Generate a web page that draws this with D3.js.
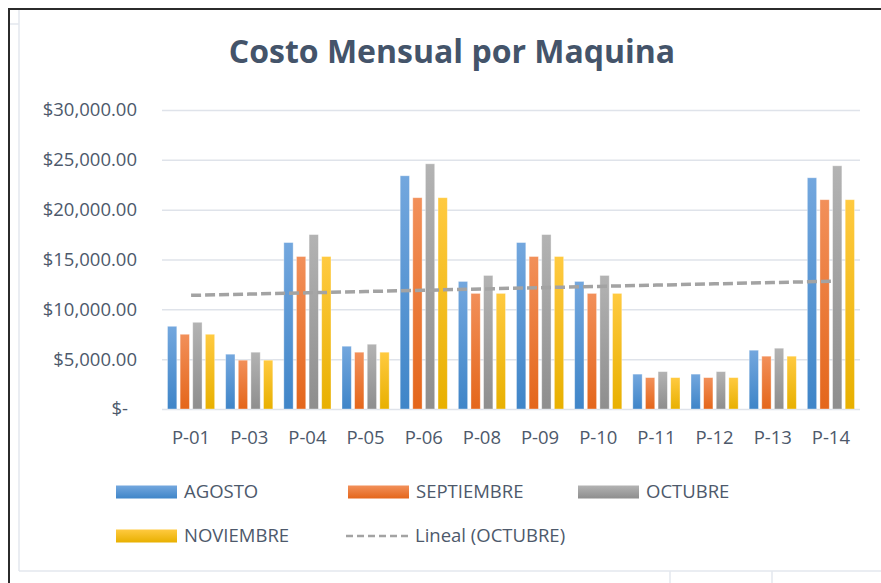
<!DOCTYPE html>
<html>
<head>
<meta charset="utf-8">
<script src="https://cdn.jsdelivr.net/npm/d3@7"></script>
<style>
  html, body { margin: 0; padding: 0; background: #fff; }
  svg { display: block; font-family: "Open Sans", sans-serif; }
</style>
</head>
<body>
<div class="canvas"></div>
<script>
// DATA
const categories = ['P-01', 'P-03', 'P-04', 'P-05', 'P-06', 'P-08', 'P-09', 'P-10', 'P-11', 'P-12', 'P-13', 'P-14'];
const seriesNames = ['AGOSTO', 'SEPTIEMBRE', 'OCTUBRE', 'NOVIEMBRE'];
const agosto = [8300, 5500, 16700, 6300, 23400, 12800, 16700, 12800, 3500, 3500, 5900, 23200];
const septiembre = [7500, 4900, 15300, 5700, 21200, 11600, 15300, 11600, 3150, 3150, 5300, 21000];
const octubre = [8700, 5700, 17500, 6500, 24600, 13400, 17500, 13400, 3750, 3750, 6100, 24400];
const noviembre = [7500, 4900, 15300, 5700, 21200, 11600, 15300, 11600, 3150, 3150, 5300, 21000];
const yTicks = [0, 5000, 10000, 15000, 20000, 25000, 30000];
const trendLabel = 'Lineal (OCTUBRE)';

const seriesValues = [agosto, septiembre, octubre, noviembre];

// colours: [top, bottom] of each bar gradient
const colors = [
    ['#73a7de', '#3f85c8'],
    ['#f2905a', '#e4661b'],
    ['#b3b3b3', '#8e8e8e'],
    ['#ffca40', '#e8b000']
];

const W = 881, H = 583;
const textColor = '#4d596b';

const svg = d3.select('.canvas').append('svg')
    .attr('width', W)
    .attr('height', H);

// gradients
const defs = svg.append('defs');
colors.forEach((c, i) => {
    const g = defs.append('linearGradient')
        .attr('id', `grad${i}`)
        .attr('x1', 0).attr('y1', 0).attr('x2', 0).attr('y2', 1);
    g.append('stop').attr('offset', '0%').attr('stop-color', c[0]);
    g.append('stop').attr('offset', '100%').attr('stop-color', c[1]);
});

// frame (screenshot edges + sheet cells)
svg.append('line').attr('x1', 19).attr('y1', 9).attr('x2', 19).attr('y2', 571)
    .attr('stroke', '#e3e7ee').attr('stroke-width', 1.5);
svg.append('line').attr('x1', 19).attr('y1', 571).attr('x2', W).attr('y2', 571)
    .attr('stroke', '#e3e7ee').attr('stroke-width', 1.5);
svg.append('line').attr('x1', 9).attr('y1', 24).attr('x2', 19).attr('y2', 24)
    .attr('stroke', '#e3e7ee').attr('stroke-width', 1.5);
[670, 772].forEach(x => {
    svg.append('line').attr('x1', x).attr('y1', 571).attr('x2', x).attr('y2', H)
        .attr('stroke', '#e3e7ee').attr('stroke-width', 1.5);
});
svg.append('path')
    .attr('d', `M9,${H} L9,9 L${W},9`)
    .attr('fill', 'none')
    .attr('stroke', '#2b2b2b')
    .attr('stroke-width', 2);

// title
svg.append('text')
    .attr('x', 452)
    .attr('y', 63)
    .attr('text-anchor', 'middle')
    .attr('fill', '#44546a')
    .style('font-size', '32px')
    .style('font-weight', 700)
    .text('Costo Mensual por Maquina');

// scales
const x0 = d3.scaleBand().domain(categories).range([162, 860]);
const x1 = d3.scaleBand().domain(seriesNames)
    .range([5.5, x0.bandwidth() - 5.5])
    .paddingInner(0.262);
const y = d3.scaleLinear().domain([0, 30000]).range([409, 110]);

// y axis with grid
const yAxis = svg.append('g')
    .attr('transform', 'translate(162,0)')
    .call(d3.axisLeft(y)
        .tickValues(yTicks)
        .tickSize(-(860 - 162))
        .tickPadding(25)
        .tickFormat(d => d === 0 ? '$-' : d3.format('$,.2f')(d)));
yAxis.select('.domain').remove();
yAxis.selectAll('.tick line').attr('stroke', '#dfe3ea').attr('stroke-width', 1.5);
yAxis.selectAll('.tick text')
    .attr('fill', textColor)
    .style('font-size', '18.5px')
    .style('font-family', '"Open Sans", sans-serif')
    .filter(d => d === 0).attr('x', -34);

// x axis labels
const xAxis = svg.append('g')
    .attr('transform', 'translate(0,409)')
    .call(d3.axisBottom(x0).tickSize(0).tickPadding(22));
xAxis.select('.domain').remove();
xAxis.selectAll('.tick text')
    .attr('fill', textColor)
    .style('font-size', '18.5px')
    .style('font-family', '"Open Sans", sans-serif');

// bars
const groups = svg.append('g').selectAll('g')
    .data(categories)
    .join('g')
    .attr('transform', d => `translate(${x0(d)},0)`);

groups.selectAll('rect')
    .data((d, i) => seriesNames.map((s, k) => ({ s, k, v: seriesValues[k][i] })))
    .join('rect')
    .attr('x', d => x1(d.s))
    .attr('y', d => y(d.v))
    .attr('width', x1.bandwidth())
    .attr('height', d => y(0) - y(d.v))
    .attr('fill', d => `url(#grad${d.k})`)
    .attr('stroke', 'rgba(255,255,255,0.45)')
    .attr('stroke-width', 0.8);

// linear trend of OCTUBRE
const n = octubre.length;
const xs = d3.range(1, n + 1);
const mx = d3.mean(xs), my = d3.mean(octubre);
const slope = d3.sum(xs, (xv, i) => (xv - mx) * (octubre[i] - my)) / d3.sum(xs, xv => (xv - mx) ** 2);
const intercept = my - slope * mx;
const trend = categories.map((c, i) => ({ c, v: intercept + slope * (i + 1) }));

svg.append('path')
    .datum(trend)
    .attr('d', d3.line().x(d => x0(d.c) + x0.bandwidth() / 2).y(d => y(d.v)))
    .attr('fill', 'none')
    .attr('stroke', '#a3a3a3')
    .attr('stroke-width', 3.5)
    .attr('stroke-dasharray', '10,4');

// legend
const legendItems = [
    { name: seriesNames[0], k: 0, x: 116, y: 492 },
    { name: seriesNames[1], k: 1, x: 348, y: 492 },
    { name: seriesNames[2], k: 2, x: 578, y: 492 },
    { name: seriesNames[3], k: 3, x: 116, y: 536 },
    { name: trendLabel, k: -1, x: 346, y: 536 }
];

const legend = svg.append('g').selectAll('g')
    .data(legendItems)
    .join('g')
    .attr('transform', d => `translate(${d.x},${d.y})`);

legend.filter(d => d.k >= 0).append('rect')
    .attr('x', 0).attr('y', -6.5)
    .attr('width', 61).attr('height', 13)
    .attr('fill', d => `url(#grad${d.k})`);

legend.filter(d => d.k < 0).append('line')
    .attr('x1', 0).attr('x2', 63).attr('y1', 0).attr('y2', 0)
    .attr('stroke', '#a3a3a3')
    .attr('stroke-width', 2.5)
    .attr('stroke-dasharray', '7,4');

legend.append('text')
    .attr('x', d => d.k < 0 ? 69 : 68)
    .attr('y', 0)
    .attr('dy', '0.35em')
    .attr('fill', textColor)
    .style('font-size', '18.5px')
    .text(d => d.name);
</script>
</body>
</html>
